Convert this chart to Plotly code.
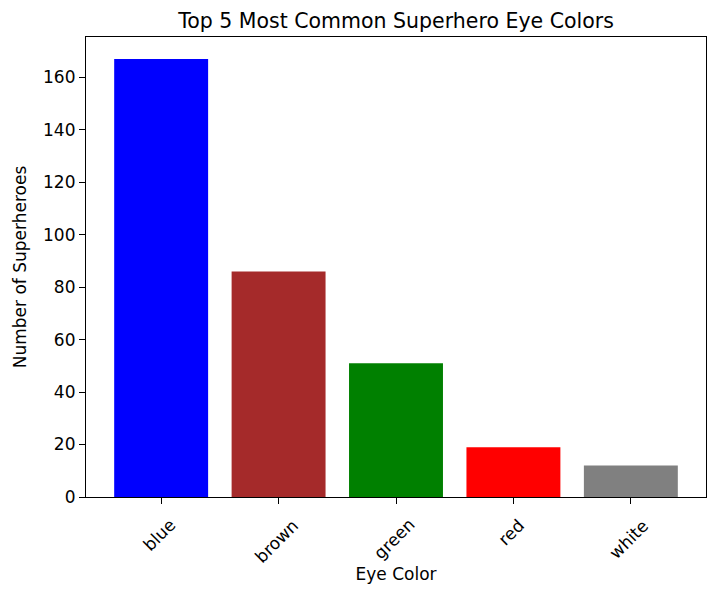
import plotly.graph_objects as go

eye_colors = ["blue", "brown", "green", "red", "white"]
counts = [167, 86, 51, 19, 12]
bar_colors = ["blue", "brown", "green", "red", "gray"]
y_ticks = [0, 20, 40, 60, 80, 100, 120, 140, 160]

# page body has an 8px margin, so the figure is a bit smaller than the window
W, H = 707, 589
ml, mr, mt, mb = 78, 9, 29, 100
pw, ph = W - ml - mr, H - mt - mb

font_family = "DejaVu Sans"
tick_size = 17
title_size = 20.5

fig = go.Figure(
    go.Bar(
        x=eye_colors,
        y=counts,
        marker=dict(color=bar_colors, line=dict(width=0)),
        width=0.8,
    )
)

tick_annotations = [
    dict(
        x=c,
        xref="x",
        y=0,
        yref="paper",
        text=c,
        showarrow=False,
        textangle=-45,
        xanchor="center",
        yanchor="top",
        xshift=-2,
        yshift=-15,
        font=dict(family=font_family, size=tick_size, color="#000000"),
    )
    for c in eye_colors
]

fig.update_layout(
    width=W,
    height=H,
    margin=dict(l=ml, r=mr, t=mt, b=mb, pad=0),
    paper_bgcolor="white",
    plot_bgcolor="white",
    font=dict(family=font_family, size=tick_size, color="#000000"),
    showlegend=False,
    title=dict(
        text="Top 5 Most Common Superhero Eye Colors",
        x=(ml + pw / 2) / W,
        xanchor="center",
        y=1 - 12.5 / H,
        yanchor="middle",
        font=dict(family=font_family, size=title_size, color="#000000"),
    ),
    annotations=tick_annotations,
)

fig.update_xaxes(
    type="category",
    range=[-0.64, 4.64],
    showline=True,
    linecolor="#000000",
    linewidth=1.2,
    mirror=True,
    ticks="outside",
    ticklen=6,
    tickwidth=1.2,
    tickcolor="#000000",
    showticklabels=False,
    showgrid=False,
    zeroline=False,
    title=dict(text="Eye Color", font=dict(family=font_family, size=tick_size), standoff=64),
)

fig.update_yaxes(
    range=[0, 175.35],
    tickvals=y_ticks,
    showline=True,
    linecolor="#000000",
    linewidth=1.2,
    mirror=True,
    ticks="outside",
    ticklen=6,
    tickwidth=1.2,
    tickcolor="#000000",
    tickfont=dict(family=font_family, size=tick_size),
    showgrid=False,
    zeroline=False,
    title=dict(text="Number of Superheroes", font=dict(family=font_family, size=tick_size), standoff=12),
)

fig.write_html("out.html")
